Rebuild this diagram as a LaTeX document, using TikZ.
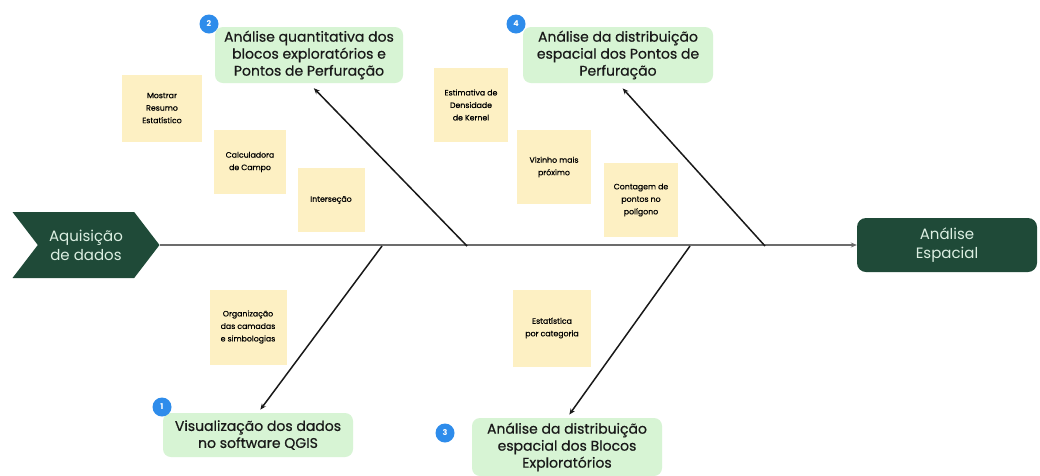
\documentclass[tikz,border=0pt]{standalone}
\usepackage{fontspec}
\setmainfont{Poppins}
\newfontfamily\stagefont[FakeBold=0.6]{Poppins}
\newfontfamily\notefont[FakeBold=0.4]{Poppins}
\usetikzlibrary{shapes.symbols, arrows.meta, positioning}
\definecolor{darkgreen}{HTML}{1F4A38}
\definecolor{mint}{HTML}{D7F4D4}
\definecolor{sticky}{HTML}{FDF0C3}
\definecolor{badgeblue}{HTML}{2E8CEB}
\definecolor{paletext}{HTML}{DCEFE2}
\tikzset{
  stagenode/.style={rectangle,rounded corners=8pt,fill=mint,draw=none,align=center,
    font=\stagefont\fontsize{14}{17}\selectfont,text=black!90,inner sep=0pt},
  notenode/.style={rectangle,fill=sticky,draw=none,align=center,
    font=\notefont\fontsize{7.8}{12.5}\selectfont,text=black,inner sep=0pt},
  badgenode/.style={circle,fill=badgeblue,text=white,font=\fontsize{8}{8}\selectfont\bfseries,
    minimum size=19pt,inner sep=0pt},
  endnode/.style={fill=darkgreen,text=paletext,align=center,draw=none,
    font=\fontsize{15}{19}\selectfont,inner sep=0pt},
  spinearr/.style={-{Stealth[length=6pt,width=5pt]},line width=1.6pt,draw=gray!85!black},
  bonearr/.style={-{Stealth[length=6pt,width=5pt]},line width=1.5pt,draw=black!90}
}

\begin{document}
\begin{tikzpicture}[x=1pt,y=-1pt]
  \useasboundingbox[fill=white] (0,0) rectangle (1040,475);

  % Head and tail of the fishbone
  \node[endnode,signal,signal from=west,signal to=east,signal pointer angle=105,
    minimum width=147pt,minimum height=66pt] (acq) at (86,245) {Aquisição\\de dados};
  \node[endnode,rectangle,rounded corners=9pt,minimum width=180pt,minimum height=54pt]
    (spat) at (947,245) {Análise\\Espacial};

  % Spine
  \draw[spinearr] (acq.east) -- (spat.west);
  \coordinate (j1) at (382,246);
  \coordinate (j2) at (467,246);
  \coordinate (j3) at (690,246);
  \coordinate (j4) at (765,246);

  % Stage boxes
  \node[stagenode,minimum width=188pt,minimum height=56pt] (s2) at (309,55)
    {Análise quantitativa dos\\blocos exploratórios e\\Pontos de Perfuração};
  \node[stagenode,minimum width=190pt,minimum height=56pt] (s4) at (618,55)
    {Análise da distribuição\\espacial dos Pontos de\\Perfuração};
  \node[stagenode,minimum width=190pt,minimum height=44pt] (s1) at (258,435)
    {Visualização dos dados\\no software QGIS};
  \node[stagenode,minimum width=190pt,minimum height=58pt] (s3) at (567,447)
    {Análise da distribuição\\espacial dos Blocos\\Exploratórios};

  % Badges
  \node[badgenode] (n1) at (162,407) {1};
  \node[badgenode] (n2) at (209,24) {2};
  \node[badgenode] (n3) at (445,433) {3};
  \node[badgenode] (n4) at (516,24) {4};

  % Bones
  \draw[bonearr,shorten >=4pt] (j1) -- (s1.north);
  \draw[bonearr,shorten >=7pt] (j2) -- (s2.south);
  \draw[bonearr,shorten >=4pt] (j3) -- (s3.north);
  \draw[bonearr,shorten >=7pt] (j4) -- (s4.south);

  % Sticky notes
  \node[notenode,minimum width=80pt,minimum height=67pt] (resumo) at (162,108)
    {Mostrar\\Resumo\\Estatístico};
  \node[notenode,minimum width=72pt,minimum height=64pt] (calc) at (250,162)
    {Calculadora\\de Campo};
  \node[notenode,minimum width=67pt,minimum height=64pt] (inter) at (331,200)
    {Interseção};
  \node[notenode,minimum width=74pt,minimum height=74pt] (kernel) at (471,105)
    {Estimativa de\\Densidade\\de Kernel};
  \node[notenode,minimum width=74pt,minimum height=74pt] (vizinho) at (554,167)
    {Vizinho mais\\próximo};
  \node[notenode,minimum width=74pt,minimum height=74pt] (contagem) at (641,200)
    {Contagem de\\pontos no\\polígono};
  \node[notenode,minimum width=77pt,minimum height=75pt] (camadas) at (248,327)
    {Organização\\das camadas\\e simbologias};
  \node[notenode,minimum width=78pt,minimum height=77pt] (categ) at (552,328)
    {Estatística\\por categoria};

\end{tikzpicture}
\end{document}
